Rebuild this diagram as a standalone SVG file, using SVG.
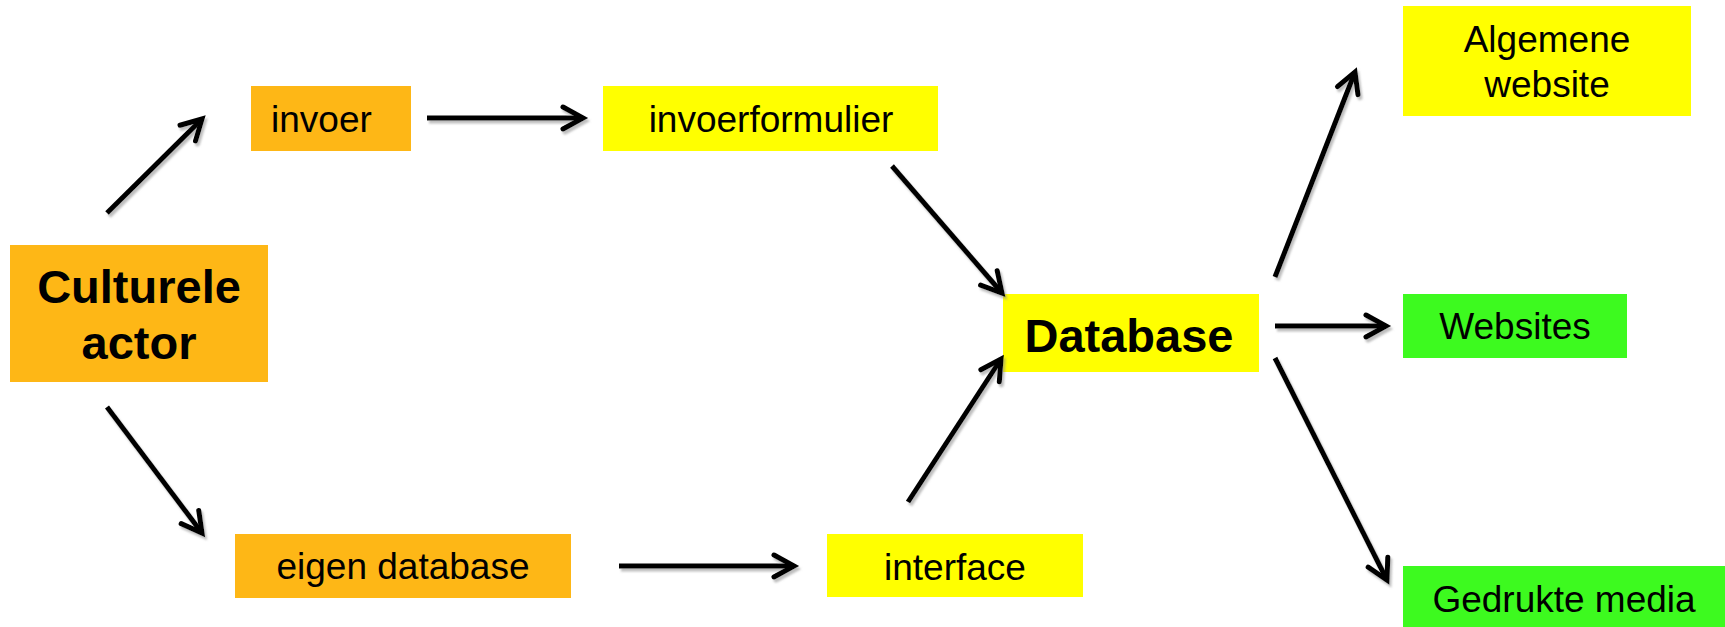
<svg xmlns="http://www.w3.org/2000/svg" width="1725" height="627" viewBox="0 0 1725 627">
  <style>
    .orange { fill: #FEB716; }
    .yellow { fill: #FFFF00; }
    .green { fill: #3DFA1F; }
    .label { font-family: "Liberation Sans", Arial, sans-serif; font-size: 37px; fill: #000; }
    .big { font-family: "Liberation Sans", Arial, sans-serif; font-size: 47px; font-weight: bold; fill: #000; }
    .arrow { stroke: #000; stroke-width: 5; fill: none; marker-end: url(#head); }
  </style>
  <defs>
    <marker id="head" markerUnits="userSpaceOnUse" markerWidth="40" markerHeight="40" refX="0" refY="0" viewBox="-30 -20 40 40" orient="auto" overflow="visible">
      <path d="M-20,-11 L0,0 L-20,11" fill="none" stroke="#000" stroke-width="5" stroke-linecap="round" stroke-linejoin="miter"/>
    </marker>
    <filter id="shadow" filterUnits="userSpaceOnUse" x="0" y="0" width="1725" height="627">
      <feDropShadow dx="2" dy="3" stdDeviation="1" flood-color="#888" flood-opacity="0.55"/>
    </filter>
  </defs>
  <rect width="1725" height="627" fill="#fff"/>

  <g id="culturele-actor">
    <rect class="orange" x="10" y="245" width="258" height="137"/>
    <text class="big" x="139" y="303" text-anchor="middle">Culturele</text>
    <text class="big" x="139" y="359" text-anchor="middle">actor</text>
  </g>
  <g id="invoer">
    <rect class="orange" x="251" y="86" width="160" height="65"/>
    <text class="label" x="271" y="132">invoer</text>
  </g>
  <g id="invoerformulier">
    <rect class="yellow" x="603" y="86" width="335" height="65"/>
    <text class="label" x="771" y="132" text-anchor="middle">invoerformulier</text>
  </g>
  <g id="eigen-database">
    <rect class="orange" x="235" y="534" width="336" height="64"/>
    <text class="label" x="403" y="579" text-anchor="middle">eigen database</text>
  </g>
  <g id="interface">
    <rect class="yellow" x="827" y="534" width="256" height="63"/>
    <text class="label" x="955" y="580" text-anchor="middle">interface</text>
  </g>
  <g id="database">
    <rect class="yellow" x="1003" y="294" width="256" height="78"/>
    <text class="big" x="1129" y="352" text-anchor="middle">Database</text>
  </g>
  <g id="algemene-website">
    <rect class="yellow" x="1403" y="6" width="288" height="110"/>
    <text class="label" x="1547" y="52" text-anchor="middle">Algemene</text>
    <text class="label" x="1547" y="97" text-anchor="middle">website</text>
  </g>
  <g id="websites">
    <rect class="green" x="1403" y="294" width="224" height="64"/>
    <text class="label" x="1515" y="339" text-anchor="middle">Websites</text>
  </g>
  <g id="gedrukte-media">
    <rect class="green" x="1403" y="566" width="322" height="61"/>
    <text class="label" x="1564" y="612" text-anchor="middle">Gedrukte media</text>
  </g>

  <g id="connectors" filter="url(#shadow)">
    <line class="arrow" x1="107" y1="213" x2="202" y2="119"/>
    <line class="arrow" x1="107" y1="407" x2="202" y2="533"/>
    <line class="arrow" x1="427" y1="118" x2="583" y2="118"/>
    <line class="arrow" x1="892" y1="166" x2="1002" y2="293"/>
    <line class="arrow" x1="619" y1="566" x2="794" y2="566"/>
    <line class="arrow" x1="908" y1="502" x2="1001" y2="359"/>
    <line class="arrow" x1="1275" y1="277" x2="1355" y2="72"/>
    <line class="arrow" x1="1275" y1="326" x2="1386" y2="326"/>
    <line class="arrow" x1="1275" y1="358" x2="1387" y2="580"/>
  </g>
</svg>
